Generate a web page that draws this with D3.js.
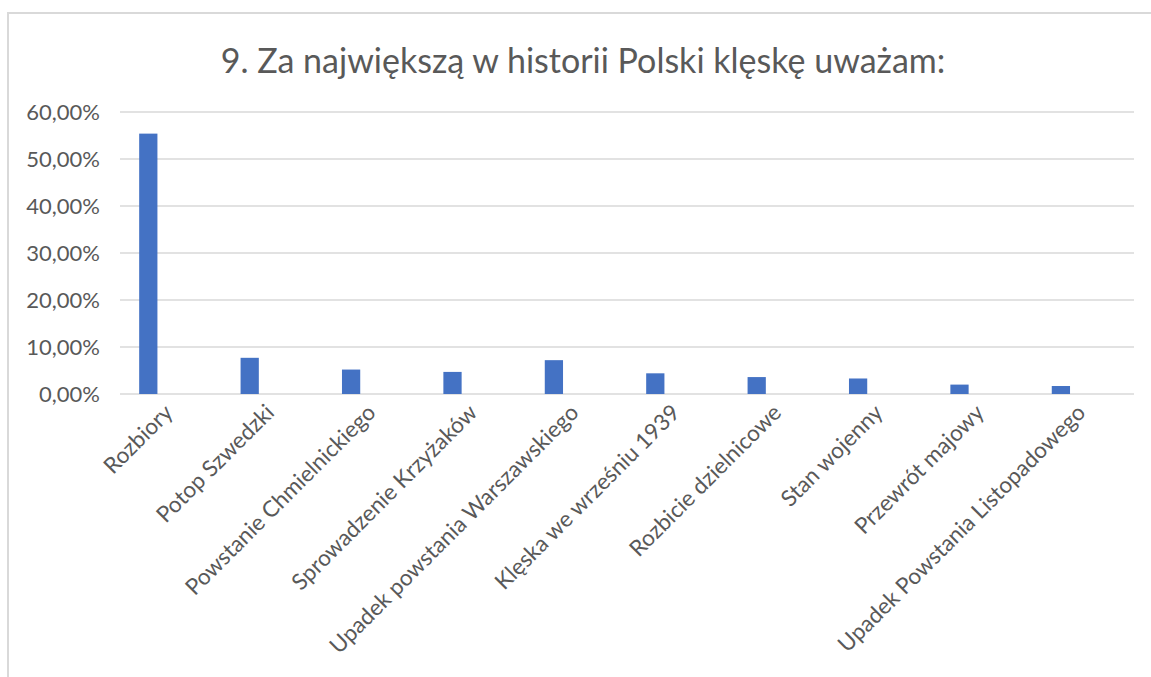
<!DOCTYPE html>
<html>
<head>
<meta charset="utf-8">
<script src="https://cdn.jsdelivr.net/npm/d3@7"></script>
<style>
  body { margin: 0; background: #fff; }
  svg { display: block; font-family: Lato, "Open Sans", sans-serif; }
</style>
</head>
<body>
<div id="chart"></div>
<script>
var categories = ["Rozbiory", "Potop Szwedzki", "Powstanie Chmielnickiego", "Sprowadzenie Krzyżaków",
  "Upadek powstania Warszawskiego", "Klęska we wrześniu 1939", "Rozbicie dzielnicowe",
  "Stan wojenny", "Przewrót majowy", "Upadek Powstania Listopadowego"];
var values = [55.4, 7.7, 5.2, 4.7, 7.2, 4.4, 3.6, 3.3, 2.0, 1.7];
var yTicks = [0, 10, 20, 30, 40, 50, 60];
var title = "9. Za największą w historii Polski klęskę uważam:";

var width = 1151, height = 677;
var blue = "#4472c4", grid = "#d9d9d9", textGray = "#595959";

var svg = d3.select("#chart").append("svg")
  .attr("width", width)
  .attr("height", height);

// chart frame (only top and left edges show)
svg.append("path")
  .attr("d", "M8,677 V13 H1151")
  .attr("fill", "none")
  .attr("stroke", grid)
  .attr("stroke-width", 2);

svg.append("text")
  .text(title)
  .attr("x", 583)
  .attr("y", 73)
  .attr("text-anchor", "middle")
  .attr("fill", textGray)
  .style("font-size", "34px");

var x = d3.scaleBand()
  .domain(categories)
  .range([97.6, 1111.6])
  .paddingInner(0.82)
  .paddingOuter(0.41);

var y = d3.scaleLinear()
  .domain([0, 60])
  .range([394, 112]);

// gridlines
svg.append("g")
  .selectAll("line")
  .data(yTicks)
  .join("line")
  .attr("x1", 120)
  .attr("x2", 1134)
  .attr("y1", function(d) { return y(d); })
  .attr("y2", function(d) { return y(d); })
  .attr("stroke", grid)
  .attr("stroke-width", 1.3);

// y axis labels
var yAxis = svg.append("g")
  .attr("transform", "translate(100,0)")
  .call(d3.axisLeft(y).tickValues(yTicks).tickSize(0).tickPadding(0)
    .tickFormat(function(d) { return d.toFixed(2).replace(".", ",") + "%"; }));
yAxis.select(".domain").remove();
yAxis.selectAll("text")
  .attr("fill", textGray)
  .style("font-size", "22px")
  .style("font-family", "Lato, 'Open Sans', sans-serif");

// bars
svg.append("g")
  .selectAll("rect")
  .data(values)
  .join("rect")
  .attr("x", function(d, i) { return x(categories[i]); })
  .attr("width", x.bandwidth())
  .attr("y", function(d) { return y(d); })
  .attr("height", function(d) { return y(0) - y(d); })
  .attr("fill", blue);

// category labels, rotated
svg.append("g")
  .selectAll("text")
  .data(categories)
  .join("text")
  .text(function(d) { return d; })
  .attr("text-anchor", "end")
  .attr("fill", textGray)
  .style("font-size", "22.5px")
  .attr("transform", function(d) {
    var cx = x(d) + x.bandwidth() / 2 + 26;
    return "translate(" + cx + ",414) rotate(-45)";
  });
</script>
</body>
</html>
